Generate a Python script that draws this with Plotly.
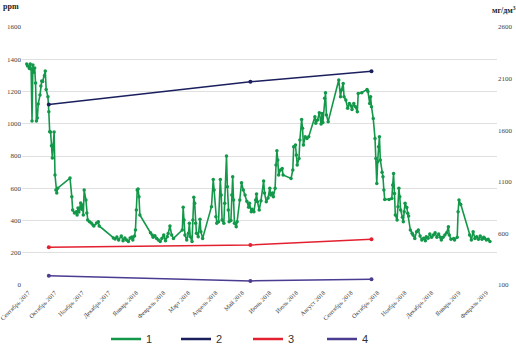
import plotly.graph_objects as go

# ---- data ----
s1_dates = [
 "2017-09-06","2017-09-07","2017-09-09","2017-09-10","2017-09-11","2017-09-12","2017-09-13","2017-09-14","2017-09-15","2017-09-16",
 "2017-09-17","2017-09-18","2017-09-19","2017-09-21","2017-09-22","2017-09-23","2017-09-24","2017-09-26","2017-09-27","2017-09-28",
 "2017-09-30","2017-10-01","2017-10-02","2017-10-03","2017-10-04","2017-10-05","2017-10-06","2017-10-07","2017-10-08","2017-10-09",
 "2017-10-10","2017-10-11","2017-10-25","2017-10-27","2017-10-28","2017-10-30","2017-11-01","2017-11-02","2017-11-03","2017-11-04",
 "2017-11-06","2017-11-07","2017-11-08","2017-11-09","2017-11-10","2017-11-12","2017-11-13","2017-11-14","2017-11-16","2017-11-18",
 "2017-11-20","2017-11-21","2017-11-24","2017-11-26","2017-11-27","2017-12-13","2017-12-15","2017-12-17","2017-12-19","2017-12-22",
 "2017-12-24","2017-12-26","2017-12-28","2017-12-30","2018-01-01","2018-01-03","2018-01-04","2018-01-06","2018-01-07","2018-01-08",
 "2018-01-09","2018-01-10","2018-01-11","2018-01-12","2018-01-24","2018-01-26","2018-01-27","2018-01-29","2018-01-31","2018-02-02",
 "2018-02-04","2018-02-06","2018-02-08","2018-02-10","2018-02-12","2018-02-13","2018-02-15","2018-02-17","2018-02-19","2018-03-01",
 "2018-03-02","2018-03-03","2018-03-04","2018-03-06","2018-03-08","2018-03-09","2018-03-10","2018-03-12","2018-03-13","2018-03-14",
 "2018-03-15","2018-03-16","2018-03-17","2018-03-19","2018-03-21","2018-03-22","2018-03-24","2018-04-03","2018-04-05","2018-04-06",
 "2018-04-08","2018-04-09","2018-04-11","2018-04-13","2018-04-14","2018-04-15","2018-04-17","2018-04-18","2018-04-20","2018-04-21",
 "2018-04-22","2018-04-23","2018-04-25","2018-04-26","2018-04-27","2018-04-28","2018-04-29","2018-05-01","2018-05-02","2018-05-05",
 "2018-05-07","2018-05-09","2018-05-11","2018-05-13","2018-05-15","2018-05-16","2018-05-18","2018-05-19","2018-05-21","2018-05-23",
 "2018-05-24","2018-05-25","2018-05-27","2018-05-29","2018-06-01","2018-06-02","2018-06-04","2018-06-06","2018-06-08","2018-06-09",
 "2018-06-11","2018-06-12","2018-06-14","2018-06-15","2018-06-16","2018-06-17","2018-06-18","2018-06-20","2018-06-22","2018-06-23",
 "2018-07-02","2018-07-04","2018-07-05","2018-07-07","2018-07-08","2018-07-09","2018-07-11","2018-07-12","2018-07-14","2018-07-15",
 "2018-07-16","2018-07-18","2018-07-20","2018-07-22","2018-07-29","2018-07-30","2018-08-01","2018-08-03","2018-08-05","2018-08-06",
 "2018-08-07","2018-08-09","2018-08-10","2018-08-11","2018-08-13","2018-08-25","2018-08-27","2018-08-28","2018-08-30","2018-08-31",
 "2018-09-02","2018-09-04","2018-09-06","2018-09-08","2018-09-09","2018-09-11","2018-09-13","2018-09-15","2018-09-16","2018-09-20",
 "2018-09-26","2018-09-27","2018-09-29","2018-09-30","2018-10-01","2018-10-03","2018-10-05","2018-10-06","2018-10-07","2018-10-08",
 "2018-10-09","2018-10-10","2018-10-11","2018-10-13","2018-10-14","2018-10-15","2018-10-16","2018-10-21","2018-10-24","2018-10-25",
 "2018-10-26","2018-10-27","2018-10-28","2018-10-30","2018-10-31","2018-11-01","2018-11-02","2018-11-03","2018-11-05","2018-11-06",
 "2018-11-07","2018-11-08","2018-11-10","2018-11-11","2018-11-12","2018-11-14","2018-11-16","2018-11-17","2018-11-19","2018-11-21",
 "2018-11-23","2018-11-25","2018-11-27","2018-11-29","2018-12-01","2018-12-02","2018-12-04","2018-12-06","2018-12-08","2018-12-10",
 "2018-12-12","2018-12-14","2018-12-16","2018-12-18","2018-12-19","2018-12-21","2018-12-23","2018-12-25","2018-12-27","2018-12-28",
 "2018-12-30","2019-01-02","2019-01-03","2019-01-06","2019-01-07","2019-01-08","2019-01-10","2019-01-20","2019-01-22","2019-01-24",
 "2019-01-26","2019-01-28","2019-01-30","2019-02-01","2019-02-03","2019-02-05","2019-02-06","2019-02-08","2019-02-10","2019-02-12",
]
s1_ppm = [
 1370,1358,1343,1370,1339,1017,1364,1320,1345,1252,
 1017,1035,1122,1178,1234,1265,1262,1298,1327,1213,
 1167,1075,950,949,864,787,868,949,682,589,
 570,600,663,547,465,446,455,434,477,453,
 508,470,496,434,589,527,446,403,393,384,
 372,366,384,393,366,291,285,298,279,304,
 275,291,279,269,291,298,279,304,341,465,
 589,595,547,434,324,310,296,306,289,279,
 269,290,310,275,300,320,366,310,289,341,
 482,403,310,279,321,383,300,269,403,544,
 507,383,321,300,407,331,289,486,655,589,
 424,383,393,655,558,403,383,507,800,609,
 465,393,400,558,671,527,383,362,393,527,
 634,589,558,520,482,507,455,470,455,527,
 564,517,465,523,645,570,517,540,600,558,
 570,548,600,744,833,775,682,713,723,682,
 661,713,857,868,806,744,785,899,1027,972,
 868,920,909,920,1044,1003,1023,1068,998,1064,
 1007,1158,1192,1054,1013,1271,1167,1209,1250,1167,
 1147,1096,1126,1110,1089,1126,1105,1075,1188,1192,
 1213,1200,1126,1167,1106,1033,909,785,630,765,
 857,920,775,700,671,589,531,531,537,620,
 692,568,434,403,486,600,548,465,420,393,
 455,507,480,445,428,341,321,310,289,331,
 341,304,279,290,275,300,290,316,296,310,
 324,296,316,296,279,296,310,324,362,310,
 283,289,279,296,455,527,500,310,279,331,
 289,300,283,304,283,296,290,279,283,269,
]

lab_dates = ["2017-10-01", "2018-05-17", "2018-10-01"]
s2_mg = [1850, 2070, 2170]
s3_mg = [465, 488, 543]
s4_mg = [190, 139, 155]

month_starts = ["2017-09-01","2017-10-01","2017-11-01","2017-12-01","2018-01-01","2018-02-01",
                "2018-03-01","2018-04-01","2018-05-01","2018-06-01","2018-07-01","2018-08-01",
                "2018-09-01","2018-10-01","2018-11-01","2018-12-01","2019-01-01","2019-02-01"]
month_labels = ["Сентябрь 2017","Октябрь 2017","Ноябрь 2017","Декабрь 2017","Январь 2018","Февраль 2018",
                "Март 2018","Апрель 2018","Май 2018","Июнь 2018","Июль 2018","Август 2018",
                "Сентябрь 2018","Октябрь 2018","Ноябрь 2018","Декабрь 2018","Январь 2019","Февраль 2019"]

names = ["1", "2", "3", "4"]
colors = ["#13984a", "#1b1f5e", "#e3202f", "#4b3b91"]
legend_ids = ["legend", "legend2", "legend3", "legend4"]
legend_left_px = [106, 176, 248, 322]

fig = go.Figure()
fig.add_trace(go.Scatter(x=s1_dates, y=s1_ppm, mode="lines+markers", name=names[0],
                         line=dict(color=colors[0], width=1.6), marker=dict(size=3.5, color=colors[0]),
                         showlegend=False))
for nm, vals, col in zip(names[1:], [s2_mg, s3_mg, s4_mg], colors[1:]):
    fig.add_trace(go.Scatter(x=lab_dates, y=vals, mode="lines+markers", name=nm, yaxis="y2",
                             line=dict(color=col, width=1.5), marker=dict(size=4, color=col),
                             showlegend=False))
# legend entries (lines only), one legend box per entry
for nm, col, lid in zip(names, colors, legend_ids):
    fig.add_trace(go.Scatter(x=[None], y=[None], mode="lines", name=nm, legend=lid,
                             line=dict(color=col, width=2.5), showlegend=True))

legend_style = dict(orientation="h", xref="container", yref="container",
                    xanchor="left", y=(345 - 339) / 345, yanchor="middle",
                    font=dict(family="Liberation Sans", size=11, color="#333"),
                    itemwidth=30, bgcolor="rgba(0,0,0,0)")
legends = {lid: dict(legend_style, x=px / 516) for lid, px in zip(legend_ids, legend_left_px)}

serif = "Liberation Serif"
fig.update_layout(
    width=516, height=345, template="none",
    paper_bgcolor="white", plot_bgcolor="white",
    margin=dict(l=22, r=19, t=27, b=60),
    showlegend=True,
    **legends,
    xaxis=dict(type="date", range=["2017-08-31 16:00", "2019-02-20"],
               tickvals=month_starts, ticktext=month_labels, tickangle=-45,
               tickfont=dict(family=serif, size=6.2, color="#333"),
               ticklabeloverflow="allow", ticklabelshift=6, ticklabelstandoff=2,
               showgrid=False, zeroline=False, showline=False, ticks="", automargin=False),
    yaxis=dict(range=[0, 1600], dtick=200, tickfont=dict(family=serif, size=7, color="#444"),
               showgrid=True, gridcolor="#e0e0e0", gridwidth=0.8, zeroline=False,
               showline=False, ticks="", automargin=False),
    yaxis2=dict(range=[99.5, 2600], tick0=100, dtick=500, overlaying="y", side="right",
                tickfont=dict(family=serif, size=7, color="#444"),
                showgrid=False, zeroline=False, showline=False, ticks="", automargin=False),
    annotations=[
        dict(text="<b>ppm</b>", xref="paper", yref="paper", x=-0.045, y=1.08,
             xanchor="left", yanchor="middle", showarrow=False,
             font=dict(family=serif, size=8, color="#222")),
        dict(text="<b>мг/дм<sup>3</sup></b>", xref="paper", yref="paper", x=1.045, y=1.066,
             xanchor="right", yanchor="middle", showarrow=False,
             font=dict(family=serif, size=8, color="#222")),
    ],
)

fig.write_html("out.html", config={"displayModeBar": False},
               post_script="document.body.style.margin='0';")
